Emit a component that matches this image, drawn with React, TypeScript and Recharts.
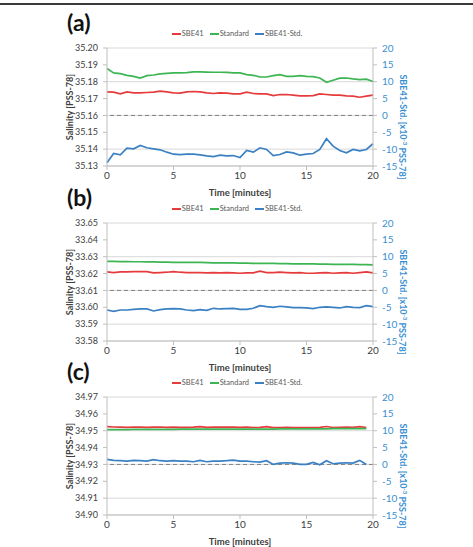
import { LineChart, Line, XAxis, YAxis, CartesianGrid, ReferenceLine, Label } from 'recharts';

// time axis (minutes)
const TIME_AB = [
  0, 0.5, 1, 1.5, 2, 2.5, 3, 3.5, 4, 4.5, 5, 5.5, 6, 6.5, 7, 7.5, 8, 8.5, 9, 9.5, 10,
  10.5, 11, 11.5, 12, 12.5, 13, 13.5, 14, 14.5, 15, 15.5, 16, 16.5, 17, 17.5, 18, 18.5, 19, 19.5, 20,
];
const TIME_C = [
  0, 0.5, 1, 1.5, 2, 2.5, 3, 3.5, 4, 4.5, 5, 5.5, 6, 6.5, 7, 7.5, 8, 8.5, 9, 9.5, 10,
  10.5, 11, 11.5, 12, 12.5, 13, 13.5, 14, 14.5, 15, 15.5, 16, 16.5, 17, 17.5, 18, 18.5, 19, 19.5,
];
const X_TICKS = [0, 5, 10, 15, 20];
const DIFF_TICKS = [-15, -10, -5, 0, 5, 10, 15, 20];

// (a)
const SBE_A = [
  35.174, 35.1738, 35.1728, 35.174, 35.1734, 35.1734, 35.1736, 35.1738, 35.1744, 35.174, 35.1734,
  35.1732, 35.174, 35.1742, 35.174, 35.1734, 35.173, 35.1734, 35.1732, 35.1728, 35.1728, 35.1738,
  35.173, 35.1728, 35.1728, 35.1718, 35.1724, 35.1724, 35.172, 35.1716, 35.1716, 35.1718, 35.1728,
  35.1724, 35.172, 35.172, 35.1716, 35.1714, 35.1708, 35.1714, 35.172,
];
const STD_A = [
  35.1878, 35.1852, 35.1848, 35.1838, 35.1832, 35.1822, 35.1836, 35.184, 35.1846, 35.185, 35.1852,
  35.1852, 35.1854, 35.1858, 35.1858, 35.1857, 35.1856, 35.1856, 35.1855, 35.1852, 35.1852, 35.1842,
  35.1838, 35.1828, 35.1828, 35.1836, 35.1842, 35.1832, 35.1832, 35.1836, 35.1832, 35.183, 35.1822,
  35.1797, 35.1809, 35.1821, 35.1822, 35.1817, 35.1813, 35.1815, 35.1801,
];
const DIFF_A = [
  -14.0, -11.3, -11.7, -9.7, -9.9, -8.9, -9.6, -9.9, -10.2, -10.9, -11.5, -11.6, -11.5, -11.5, -11.7,
  -12.0, -12.2, -11.8, -12.0, -11.9, -12.5, -10.4, -10.9, -9.6, -10.1, -11.9, -11.6, -10.8, -11.1,
  -11.8, -11.5, -11.3, -10.1, -6.9, -9.1, -10.4, -11.1, -10.1, -10.5, -10.1, -8.4,
];
const SAL_TICKS_A = [35.13, 35.14, 35.15, 35.16, 35.17, 35.18, 35.19, 35.2];

// (b)
const SBE_B = [
  33.621, 33.6206, 33.621, 33.621, 33.6212, 33.6212, 33.6212, 33.6204, 33.6206, 33.6208, 33.6212,
  33.6208, 33.6206, 33.6206, 33.6206, 33.6204, 33.6206, 33.6204, 33.6206, 33.6204, 33.6202, 33.6204,
  33.6204, 33.6214, 33.6206, 33.6206, 33.6208, 33.6206, 33.6204, 33.6206, 33.6202, 33.6202, 33.6204,
  33.6206, 33.6202, 33.6204, 33.6206, 33.6202, 33.6206, 33.621, 33.6204,
];
const STD_B = [
  33.6272, 33.6272, 33.6271, 33.6271, 33.627, 33.627, 33.6269, 33.6269, 33.6268, 33.6268, 33.6267,
  33.6267, 33.6266, 33.6266, 33.6266, 33.6265, 33.6264, 33.6264, 33.6263, 33.6263, 33.6262, 33.6262,
  33.6261, 33.6261, 33.626, 33.626, 33.6259, 33.6259, 33.6258, 33.6258, 33.6257, 33.6257, 33.6256,
  33.6256, 33.6255, 33.6255, 33.6254, 33.6254, 33.6253, 33.6253, 33.6252,
];
const DIFF_B = [
  -5.8, -6.2, -5.8, -5.8, -5.6, -5.5, -5.5, -6.1, -5.7, -5.5, -5.4, -5.5, -5.8, -6.0, -5.7, -5.9,
  -5.3, -5.5, -5.4, -5.3, -5.6, -5.6, -5.3, -4.5, -4.8, -5.0, -4.7, -4.9, -5.1, -5.1, -5.2, -5.4,
  -5.0, -4.9, -5.0, -5.2, -4.8, -5.0, -5.1, -4.5, -4.8,
];
const SAL_TICKS_B = [33.58, 33.59, 33.6, 33.61, 33.62, 33.63, 33.64, 33.65];

// (c)
const SBE_C = [
  34.9524, 34.9522, 34.9521, 34.952, 34.9522, 34.9521, 34.952, 34.9521, 34.9522, 34.952, 34.9521,
  34.952, 34.952, 34.9521, 34.9524, 34.952, 34.9521, 34.9522, 34.9521, 34.9522, 34.952, 34.9521,
  34.9519, 34.952, 34.9524, 34.9518, 34.9519, 34.952, 34.9519, 34.9518, 34.9518, 34.9519, 34.952,
  34.9525, 34.9519, 34.952, 34.9521, 34.952, 34.9524, 34.9519,
];
const STD_C = [
  34.9507, 34.9507, 34.9507, 34.9507, 34.9508, 34.9508, 34.9508, 34.9508, 34.9508, 34.9508, 34.9508,
  34.9509, 34.9509, 34.9509, 34.9509, 34.9509, 34.9509, 34.9509, 34.951, 34.951, 34.951, 34.951,
  34.951, 34.951, 34.951, 34.951, 34.9511, 34.9511, 34.9511, 34.9511, 34.9511, 34.9511, 34.9511,
  34.9511, 34.9512, 34.9512, 34.9512, 34.9512, 34.9512, 34.9512,
];
const DIFF_C = [
  1.5, 1.2, 1.1, 1.0, 1.2, 1.1, 1.0, 1.4, 1.1, 1.0, 1.1, 1.0, 1.0, 0.8, 1.2, 0.8, 1.0, 1.0, 1.1, 1.3,
  1.0, 1.0, 0.8, 0.7, 1.1, 0.0, 0.4, 0.5, 0.4, 0.0, 0.0, 0.6, -0.1, 1.1, 0.2, 0.4, 0.5, 0.4, 1.2, 0.0,
];
const SAL_TICKS_C = [34.9, 34.91, 34.92, 34.93, 34.94, 34.95, 34.96, 34.97];

const RED = '#e63b3d';
const GREEN = '#3db553';
const BLUE = '#3a80c3';
const BLUE_TEXT = '#3a8fd2';
const GRID = '#d9d9d9';
const AXIS = '#bfbfbf';
const TEXT = '#404040';

const SERIES = [
  { key: 'sbe', name: 'SBE41', color: RED },
  { key: 'std', name: 'Standard', color: GREEN },
  { key: 'diff', name: 'SBE41-Std.', color: BLUE },
];

const CHART_W = 473;
const CHART_H = 200;
const MARGIN = { top: 48, right: 60, bottom: 0, left: 67 };

const SalinityTitle = (props: any) => {
  const vb = props.viewBox ?? { x: 67, y: 48, width: 40, height: 118 };
  const cx = vb.x + 2;
  const cy = vb.y + vb.height / 2;
  return (
    <text
      x={cx}
      y={cy}
      transform={`rotate(-90 ${cx} ${cy})`}
      textAnchor="middle"
      dominantBaseline="central"
      fontSize={9}
      fontWeight={700}
      fill={TEXT}
    >
      Salinity [PSS-78]
    </text>
  );
};

const DiffTitle = (props: any) => {
  const vb = props.viewBox ?? { x: 373, y: 48, width: 40, height: 118 };
  const cx = vb.x + 30;
  const cy = vb.y + vb.height / 2 + 20;
  return (
    <text
      x={cx}
      y={cy}
      transform={`rotate(90 ${cx} ${cy})`}
      textAnchor="middle"
      dominantBaseline="central"
      fontSize={9}
      fontWeight={700}
      fill={BLUE_TEXT}
    >
      SBE41-Std. [x10
      <tspan dy={-3} fontSize={6}>
        -3
      </tspan>
      <tspan dy={3}> PSS-78]</tspan>
    </text>
  );
};

const TimeTitle = (props: any) => {
  const vb = props.viewBox ?? { x: 107, y: 166, width: 266, height: 34 };
  return (
    <text
      x={vb.x + vb.width / 2}
      y={vb.y + 30}
      textAnchor="middle"
      fontSize={9.5}
      fontWeight={700}
      fill={TEXT}
    >
      Time [minutes]
    </text>
  );
};

type PanelProps = {
  letter: string;
  top: number;
  time: number[];
  sbe: number[];
  std: number[];
  diff: number[];
  salTicks: number[];
};

const Panel = ({ letter, top, time, sbe, std, diff, salTicks }: PanelProps) => {
  const data = time.map((t, i) => ({ t, sbe: sbe[i], std: std[i], diff: diff[i] }));

  return (
    <div style={{ position: 'absolute', left: 0, top, width: CHART_W, height: CHART_H }}>
      {/* panel letter */}
      <div
        style={{
          position: 'absolute',
          left: 67,
          top: 10,
          fontSize: 23,
          fontWeight: 700,
          lineHeight: '24px',
          color: '#111',
        }}
      >
        {letter}
      </div>

      {/* legend */}
      <div
        style={{
          position: 'absolute',
          left: 107,
          top: 29,
          width: 266,
          display: 'flex',
          justifyContent: 'center',
          alignItems: 'center',
          fontSize: 7.5,
          color: '#595959',
          lineHeight: '10px',
        }}
      >
        {SERIES.map((s) => (
          <div key={s.key} style={{ display: 'flex', alignItems: 'center', marginRight: 6 }}>
            <span style={{ width: 9, height: 2, backgroundColor: s.color, marginRight: 1 }} />
            <span>{s.name}</span>
          </div>
        ))}
      </div>

      <LineChart width={CHART_W} height={CHART_H} data={data} margin={MARGIN}>
        <CartesianGrid yAxisId="left" vertical={false} stroke={GRID} />
        <XAxis
          dataKey="t"
          type="number"
          domain={[0, 20]}
          ticks={X_TICKS}
          height={34}
          tickSize={4}
          tickMargin={2}
          tick={{ fontSize: 10, fill: TEXT }}
          axisLine={{ stroke: AXIS }}
          tickLine={{ stroke: AXIS }}
        >
          <Label content={TimeTitle} />
        </XAxis>
        <YAxis
          yAxisId="left"
          domain={[salTicks[0], salTicks[salTicks.length - 1]]}
          ticks={salTicks}
          tickFormatter={(v: number) => v.toFixed(2)}
          width={40}
          tickSize={4}
          tickMargin={5}
          tick={{ fontSize: 9, fill: TEXT }}
          axisLine={{ stroke: AXIS }}
          tickLine={{ stroke: AXIS }}
          allowDataOverflow
        >
          <Label content={SalinityTitle} />
        </YAxis>
        <YAxis
          yAxisId="right"
          orientation="right"
          domain={[-15, 20]}
          ticks={DIFF_TICKS}
          width={40}
          tickSize={4}
          tickMargin={5}
          tick={{ fontSize: 10, fill: BLUE_TEXT }}
          axisLine={{ stroke: AXIS }}
          tickLine={{ stroke: AXIS }}
          allowDataOverflow
        >
          <Label content={DiffTitle} />
        </YAxis>
        <ReferenceLine yAxisId="right" y={0} stroke="#808080" strokeDasharray="4 3" />
        <Line
          yAxisId="left"
          dataKey="sbe"
          stroke={RED}
          strokeWidth={1.7}
          dot={false}
          type="linear"
          isAnimationActive={false}
        />
        <Line
          yAxisId="left"
          dataKey="std"
          stroke={GREEN}
          strokeWidth={1.7}
          dot={false}
          type="linear"
          isAnimationActive={false}
        />
        <Line
          yAxisId="right"
          dataKey="diff"
          stroke={BLUE}
          strokeWidth={1.7}
          dot={false}
          type="linear"
          isAnimationActive={false}
        />
      </LineChart>
    </div>
  );
};

export default function App() {
  return (
    <div
      style={{
        position: 'absolute',
        left: 0,
        top: 0,
        width: 473,
        height: 547,
        background: '#fff',
        overflow: 'hidden',
        fontFamily: 'Lato, "Open Sans", sans-serif',
      }}
    >
      <div style={{ position: 'absolute', left: 0, top: 3, width: 473, height: 2, background: '#3a3a3a' }} />
      <Panel letter="(a)" top={0} time={TIME_AB} sbe={SBE_A} std={STD_A} diff={DIFF_A} salTicks={SAL_TICKS_A} />
      <Panel letter="(b)" top={175} time={TIME_AB} sbe={SBE_B} std={STD_B} diff={DIFF_B} salTicks={SAL_TICKS_B} />
      <Panel letter="(c)" top={349} time={TIME_C} sbe={SBE_C} std={STD_C} diff={DIFF_C} salTicks={SAL_TICKS_C} />
    </div>
  );
}
